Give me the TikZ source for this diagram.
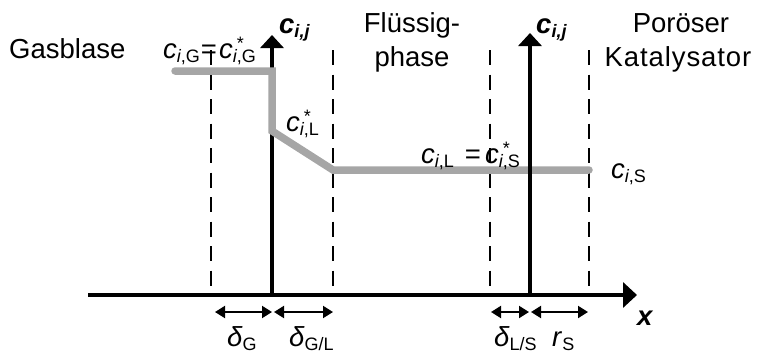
\documentclass[tikz,border=0pt]{standalone}
\usepackage{fontspec}
\setmainfont{Liberation Sans}
\usetikzlibrary{arrows.meta}
\definecolor{profgray}{HTML}{A6A6A6}
\newcommand{\subsz}{\fontsize{18}{18}\selectfont}
\newcommand{\mainsz}{\fontsize{27.5}{34}\selectfont}
\newcommand{\cSub}[1]{\textit{c}\raisebox{-4pt}{\subsz #1}}
\newcommand{\cStar}[1]{\textit{c}\rlap{\kern4pt\raisebox{9pt}{\subsz *}}\raisebox{-4pt}{\subsz #1}}
\newcommand{\cBold}{\textbf{\textit{c}}\raisebox{-4pt}{\subsz\bfseries\itshape i,j}}
\newcommand{\dSub}[2]{\textit{#1}\raisebox{-4pt}{\subsz #2}}
\newcommand{\ks}{\kern0.9pt}
\tikzset{
  haxis/.style={line width=4.5pt, -{Triangle[length=14pt,width=25pt]}},
  vaxis/.style={line width=4.5pt, -{Triangle[length=13pt,width=23pt]}},
  dashline/.style={line width=1.4pt, dash pattern=on 15pt off 9.5pt},
  conc/.style={line width=7.5pt, draw=profgray, line cap=round, line join=miter},
  dimarrow/.style={line width=2pt, {Triangle[length=10pt,width=12pt]}-{Triangle[length=10pt,width=12pt]}},
  lbl/.style={inner sep=0pt, font=\mainsz},
}
\begin{document}
\begin{tikzpicture}[x=1pt,y=-1pt]
\useasboundingbox (0,0) rectangle (757,354);
% coordinates
\coordinate (xs) at (88,295);
\coordinate (xe) at (637,295);
\coordinate (l0) at (272,295);
\coordinate (l1) at (272,35);
\coordinate (r0) at (530,295);
\coordinate (r1) at (530,33);
\foreach \n/\xx in {d1/211,d2/333,d3/490,d4/589}{
  \coordinate (\n t) at (\xx,50);
  \coordinate (\n b) at (\xx,295);
}
\coordinate (p1) at (175,71);
\coordinate (p2) at (272,71);
\coordinate (p3) at (272,131);
\coordinate (p4) at (333,170);
\coordinate (p5) at (589,170);
% dashed
\foreach \n in {d1,d2,d3,d4}{\draw[dashline] (\n t) -- (\n b);}
% axes
\draw[haxis] (xs) -- (xe);
\draw[vaxis] (l0) -- (l1);
% profile
\draw[conc] (p1) -- (p2) -- (p3) -- (p4) -- (p5);
\draw[vaxis] (r0) -- (r1);
% dimension arrows
\coordinate (a1) at (215,312); \coordinate (a2) at (272,312);
\coordinate (a3) at (274,312); \coordinate (a4) at (333,312);
\coordinate (a5) at (491,312); \coordinate (a6) at (529,312);
\coordinate (a7) at (531,312); \coordinate (a8) at (588,312);
\draw[dimarrow] (a1) -- (a2);
\draw[dimarrow] (a3) -- (a4);
\draw[dimarrow] (a5) -- (a6);
\draw[dimarrow] (a7) -- (a8);
% labels
\node[lbl, anchor=base west] (dG) at (227,346) {\dSub{δ}{G}};
\node[lbl, anchor=base west] (dGL) at (289,346) {\dSub{δ}{G/L}};
\node[lbl, anchor=base west] (dLS) at (494,346) {\dSub{δ}{L/S}};
\node[lbl, anchor=base west] (rS) at (552,346) {\dSub{r}{S}};
\node[lbl, anchor=base west] (xl) at (637,325) {\textbf{\textit{x}}};
\node[lbl, anchor=base west] (cl) at (279,33) {\cBold};
\node[lbl, anchor=base west] (cr) at (536,33) {\cBold};
\node[lbl, anchor=base west] (gas) at (9,58) {Gasblase};
\node[lbl, anchor=base west] (gasB) at (163,58) {\cSub{\textit{i},G}};
\node[lbl, anchor=base] (gasEq) at (209,58) {=};
\node[lbl, anchor=base west] (gasC) at (219,58) {\cStar{\textit{i},G}};
\node[lbl, anchor=base, align=center] (fl) at (412,66) {Flüssig-\\phase};
\node[lbl, anchor=base] (por) at (681,32) {Poröser};
\node[lbl, anchor=base] (kat) at (678,66) {K\ks a\ks t\ks a\ks l\ks y\ks s\ks a\ks t\ks o\ks r};
\node[lbl, anchor=base west] (cL) at (286,131) {\cStar{\textit{i},L}};
\node[lbl, anchor=base west] (cLa) at (421,163) {\cSub{\textit{i},L}};
\node[lbl, anchor=base] (cLeq) at (473,163) {=};
\node[lbl, anchor=base west] (cLb) at (485,163) {\cStar{\textit{i},S}};
\node[lbl, anchor=base west] (cS) at (611,178) {\cSub{\textit{i},S}};
\end{tikzpicture}
\end{document}
